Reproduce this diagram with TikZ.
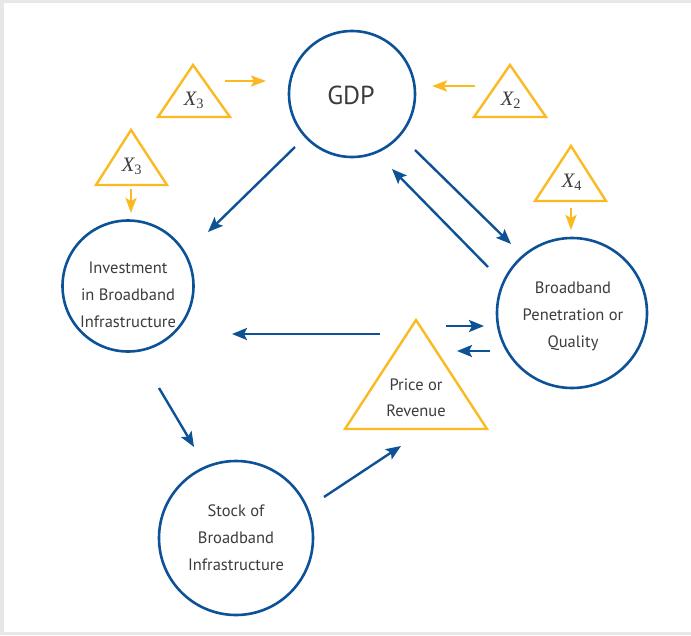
\documentclass[tikz,border=0pt]{standalone}
\usepackage{fontspec}
\setmainfont{PT Sans}
\newfontfamily\varfont{Liberation Serif}
\usetikzlibrary{arrows.meta}
\definecolor{fblue}{HTML}{0D5297}
\definecolor{fyellow}{HTML}{FBBA22}
\definecolor{ftext}{HTML}{3C3C3C}
\definecolor{pageedge}{HTML}{E6E7E8}
\begin{document}
\begin{tikzpicture}[x=1pt,y=-1pt,
  loopnode/.style={circle, draw=fblue, line width=2.6pt, inner sep=0pt},
  looptext/.style={text=ftext, align=center, inner sep=0pt,
    font=\fontsize{16.5}{27}\selectfont},
  link/.style={draw=fblue, line width=2.4pt,
    -{Stealth[length=15pt,width=12pt,inset=3pt]}},
  feed/.style={draw=fyellow, line width=2.4pt,
    -{Stealth[length=15pt,width=11pt,inset=3pt]}},
  shock/.style={draw=fyellow, line width=2.4pt, line join=miter},
  varlabel/.style={inner sep=0pt, text=ftext, anchor=base,
    font=\varfont\fontsize{20.5}{20}\selectfont},
]
% page frame
\fill[pageedge] (0,0) rectangle (691,635);
\fill[white] (4,3) rectangle (691,632);
\useasboundingbox (0,0) rectangle (691,635);

% main loop variables
\node[loopnode, minimum size=126pt] (gdp) at (352,94) {};
\node[looptext, font=\fontsize{26}{26}\selectfont] (gdptext) at (351,95) {GDP};
\node[loopnode, minimum size=131pt] (inv) at (128,286) {};
\node[looptext] (invtext) at (128,295) {Investment\\in Broadband\\Infrastructure};
\node[loopnode, minimum size=150pt] (pen) at (572,313) {};
\node[looptext] (pentext) at (573,316) {Broadband\\Penetration or\\Quality};
\node[loopnode, minimum size=154pt] (stock) at (236,538) {};
\node[looptext] (stocktext) at (236,538) {Stock of\\Broadband\\Infrastructure};

% price triangle
\coordinate (pA) at (416,320);
\coordinate (pL) at (345,429);
\coordinate (pR) at (487,429);
\draw[shock] (pA) -- (pL) -- (pR) -- cycle;
\node[looptext, font=\fontsize{16.5}{26}\selectfont] (price) at (416,398) {Price or\\Revenue};

% exogenous variables
\draw[shock] (193,65) -- (158,117) -- (230,117) -- cycle;
\node[varlabel] (x3a) at (194,105) {{\itshape X}\textsubscript{3}};
\draw[shock] (510,65) -- (474,117) -- (546,117) -- cycle;
\node[varlabel] (x2) at (511,105) {{\itshape X}\textsubscript{2}};
\draw[shock] (131,130) -- (96,185) -- (167,185) -- cycle;
\node[varlabel] (x3b) at (132,171) {{\itshape X}\textsubscript{3}};
\draw[shock] (571,146) -- (535,201) -- (606,201) -- cycle;
\node[varlabel] (x4) at (572,187) {{\itshape X}\textsubscript{4}};

% arrow end points
\coordinate (x3aS) at (225,81);  \coordinate (x3aE) at (266,81);
\coordinate (x2S) at (475,86);   \coordinate (x2E) at (432,86);
\coordinate (x3bS) at (131,189); \coordinate (x3bE) at (131,213);
\coordinate (x4S) at (571,208);  \coordinate (x4E) at (571,230);

\coordinate (gi1) at (295,147); \coordinate (gi2) at (208,232);
\coordinate (gp1) at (415,150); \coordinate (gp2) at (511,244);
\coordinate (pg1) at (488,267); \coordinate (pg2) at (392,169);
\coordinate (pi1) at (380,334); \coordinate (pi2) at (232,334);
\coordinate (rp1) at (446,326); \coordinate (rp2) at (484,326);
\coordinate (pr1) at (490,351); \coordinate (pr2) at (457,351);
\coordinate (is1) at (159,388); \coordinate (is2) at (194,447);
\coordinate (sp1) at (324,497); \coordinate (sp2) at (401,446);

% exogenous influences
\draw[feed] (x3aS) -- (x3aE);
\draw[feed] (x2S) -- (x2E);
\draw[feed] (x3bS) -- (x3bE);
\draw[feed] (x4S) -- (x4E);

% causal links
\draw[link] (gi1) -- (gi2);
\draw[link] (gp1) -- (gp2);
\draw[link] (pg1) -- (pg2);
\draw[link] (pi1) -- (pi2);
\draw[link] (rp1) -- (rp2);
\draw[link] (pr1) -- (pr2);
\draw[link] (is1) -- (is2);
\draw[link] (sp1) -- (sp2);
\end{tikzpicture}
\end{document}
